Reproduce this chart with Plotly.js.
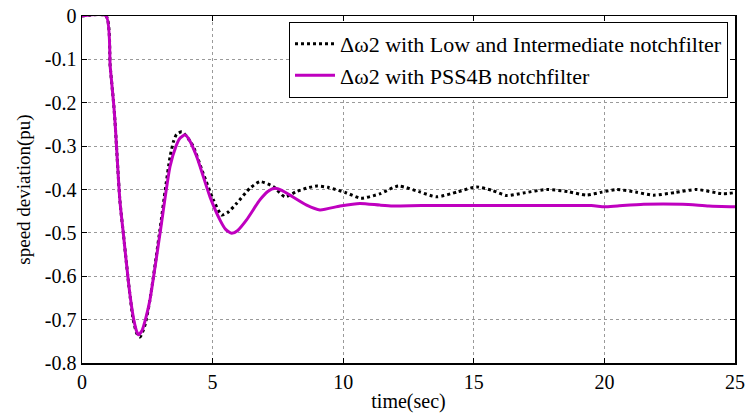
<!DOCTYPE html>
<html>
<head>
<meta charset="utf-8">
<script src="https://cdn.plot.ly/plotly-3.0.1.min.js"></script>
<style>html,body{margin:0;padding:0;background:#fff;}#chart{width:745px;height:414px;}</style>
</head>
<body>
<div id="chart"></div>
<script>
// Series: Δω2 with Low and Intermediate notchfilter (black dotted)
var tLow = [0, 0.92, 1.08, 1.2, 1.26, 1.45, 1.58, 1.8, 1.96, 2.1, 2.22, 2.4, 2.6, 2.99, 3.2, 3.37, 3.5, 3.62, 3.82, 4.0, 4.26, 4.64, 5.03, 5.35, 5.6, 5.92, 6.43, 6.81, 7.32, 7.77, 8.2, 8.6, 9.0, 9.42, 10.13, 10.68, 11.4, 12.11, 12.9, 13.58, 14.4, 15.11, 15.7, 16.26, 16.9, 17.79, 18.6, 19.32, 19.9, 20.47, 21.2, 21.87, 22.7, 23.53, 24.55, 25];
var vLow = [0, 0, -0.117, -0.194, -0.24, -0.425, -0.5, -0.625, -0.7, -0.732, -0.74, -0.715, -0.655, -0.49, -0.395, -0.325, -0.29, -0.273, -0.267, -0.277, -0.301, -0.363, -0.424, -0.459, -0.452, -0.432, -0.397, -0.382, -0.393, -0.417, -0.405, -0.397, -0.392, -0.395, -0.408, -0.42, -0.41, -0.392, -0.405, -0.417, -0.405, -0.394, -0.402, -0.414, -0.408, -0.4, -0.405, -0.413, -0.406, -0.4, -0.406, -0.413, -0.407, -0.4, -0.41, -0.407];

// Series: Δω2 with PSS4B notchfilter (magenta solid)
var tPss = [0, 0.92, 1.08, 1.2, 1.26, 1.45, 1.58, 1.8, 1.96, 2.08, 2.16, 2.3, 2.45, 2.6, 2.99, 3.37, 3.6, 3.75, 3.94, 4.1, 4.39, 4.9, 5.28, 5.5, 5.73, 5.95, 6.3, 6.81, 7.1, 7.39, 7.65, 7.96, 8.6, 9.11, 9.88, 10.64, 11.4, 11.9, 13, 15, 17.5, 19.5, 20, 20.5, 21.5, 23, 24, 25];
var vPss = [0, 0, -0.117, -0.194, -0.24, -0.425, -0.5, -0.625, -0.693, -0.725, -0.735, -0.725, -0.695, -0.655, -0.5, -0.347, -0.3, -0.282, -0.274, -0.285, -0.324, -0.417, -0.47, -0.492, -0.501, -0.495, -0.47, -0.424, -0.405, -0.397, -0.402, -0.413, -0.436, -0.447, -0.438, -0.432, -0.436, -0.438, -0.437, -0.437, -0.437, -0.437, -0.44, -0.438, -0.434, -0.434, -0.438, -0.44];

var xTicks = [0, 5, 10, 15, 20, 25];
var yTicks = [0, -0.1, -0.2, -0.3, -0.4, -0.5, -0.6, -0.7, -0.8];
var yTickText = ['0', '-0.1', '-0.2', '-0.3', '-0.4', '-0.5', '-0.6', '-0.7', '-0.8'];
var seriesNames = ['\u0394\u03c92 with Low and Intermediate notchfilter', '\u0394\u03c92 with PSS4B notchfilter'];

var font = 'Liberation Serif';

var traces = [
  {x: tLow, y: vLow, mode: 'lines', name: seriesNames[0],
   line: {color: '#000000', width: 3, dash: '3px,3px', shape: 'spline', smoothing: 0.6}},
  {x: tPss, y: vPss, mode: 'lines', name: seriesNames[1],
   line: {color: '#bf00bf', width: 3, shape: 'spline', smoothing: 0.6}}
];

var axisCommon = {
  showline: true, mirror: 'ticks', linecolor: '#000', linewidth: 1.5,
  ticks: 'inside', ticklen: 5, tickcolor: '#000', tickwidth: 1,
  showgrid: true, gridcolor: '#9a9a9a', gridwidth: 1, griddash: 'dot',
  zeroline: false, tickfont: {family: font, size: 20, color: '#000'}
};

var layout = {
  width: 745, height: 414,
  margin: {l: 82, r: 10, t: 16, b: 51},
  paper_bgcolor: '#fff', plot_bgcolor: '#fff',
  font: {family: font, color: '#000'},
  showlegend: true,
  legend: {x: 0.317, y: 0.983, xanchor: 'left', yanchor: 'top',
    bgcolor: '#fff', bordercolor: '#000', borderwidth: 1,
    font: {family: font, size: 22, color: '#000'}, itemwidth: 40, tracegroupgap: 0},
  xaxis: Object.assign({}, axisCommon, {
    range: [0, 25], tickmode: 'array', tickvals: xTicks, ticktext: xTicks.map(String),
    title: {text: 'time(sec)', font: {family: font, size: 20, color: '#000'}, standoff: 2}
  }),
  yaxis: Object.assign({}, axisCommon, {
    range: [-0.8, 0], tickmode: 'array', tickvals: yTicks, ticktext: yTickText,
    title: {text: 'speed deviation(pu)', font: {family: font, size: 19, color: '#000'}, standoff: 9}
  })
};

Plotly.newPlot('chart', traces, layout, {displayModeBar: false, staticPlot: true});
</script>
</body>
</html>
